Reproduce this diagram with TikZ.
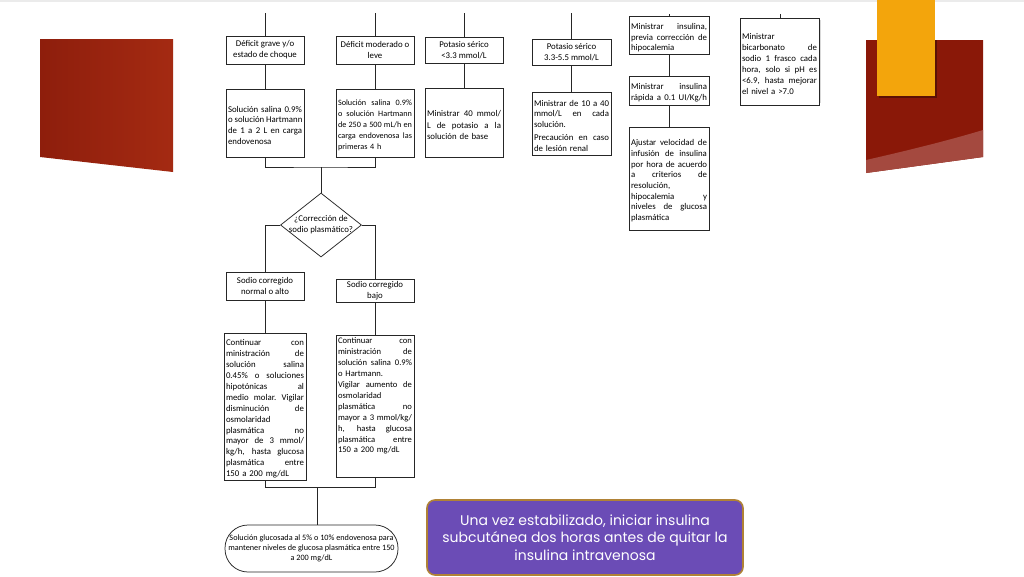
\documentclass[tikz,border=0pt]{standalone}
\usepackage{fontspec}
\setmainfont{Carlito}
\newfontfamily\gothic{Poppins}
\usetikzlibrary{shapes.geometric}
\definecolor{redA}{HTML}{8E1E0C}
\definecolor{redB}{HTML}{A42A12}
\definecolor{redC}{HTML}{8A1808}
\definecolor{redD}{HTML}{A4493F}
\definecolor{orangeA}{HTML}{F3A50C}
\definecolor{purpfill}{HTML}{6B4CB6}
\definecolor{purpedge}{HTML}{B08236}
\definecolor{lncol}{HTML}{262626}
\newdimen\tw
\tw=74pt
\newcommand\jline[1]{\par\noindent\hbox to\tw{\spaceskip=0.22em plus 1fil\xspaceskip=0.22em plus 1fil\relax #1}\par}
\newcommand\lline[1]{\par\noindent\hbox to\tw{#1\hfil}\par}
\tikzset{
  ln/.style={draw=lncol, line width=0.75pt},
  hbox/.style={draw=lncol, line width=0.75pt, rectangle, inner sep=1pt, align=center,
    font=\fontsize{8.8}{11}\selectfont},
  tbox/.style={draw=lncol, line width=0.75pt, rectangle, inner xsep=2pt, inner ysep=2pt,
    font=\fontsize{8.8}{10.7}\selectfont, text width=#1,
    execute at begin node={\global\tw=#1\relax}},
  diam/.style={draw=lncol, line width=0.75pt, diamond, inner sep=0pt,
    minimum width=81pt, minimum height=64pt},
  ovalbox/.style={draw=lncol, line width=0.75pt, rectangle, rounded corners=23pt,
    minimum width=173pt, minimum height=47pt, align=center, inner sep=1pt,
    font=\fontsize{8.2}{10}\selectfont},
  notebox/.style={draw=purpedge, line width=1.6pt, fill=purpfill, rounded corners=8pt,
    minimum width=316pt, minimum height=75pt, text=white, align=center,
    font=\gothic\fontsize{14}{17.5}\selectfont}
}
\begin{document}
\begin{tikzpicture}[x=1pt,y=-1pt]
\useasboundingbox (0,0) rectangle (1024,576);
\fill[white] (0,0) rectangle (1024,576);
\fill[black!8] (0,0) rectangle (1024,2);
% decorative shapes
\shade[left color=redA, right color=redB] (40,39) -- (173,39) -- (173,172) -- (40,157) -- cycle;
\fill[redC] (866,40) -- (983,40) -- (983,157) -- (866,173) -- cycle;
\fill[redD] (866,160) .. controls (910,150) and (950,140) .. (983,130) -- (983,157) -- (866,173) -- cycle;
\fill[black!35!redC] (879,40) rectangle (937,98);
\fill[orangeA] (877,0) rectangle (935,96);
\draw[black!15, line width=0.6pt] (820.5,20) -- (820.5,103);

% top row headers
\node[hbox, minimum width=78pt, minimum height=28pt] (b1) at (265,50) {Déficit grave y/o\\estado de choque};
\node[hbox, minimum width=78pt, minimum height=28pt] (b2) at (375,50) {Déficit moderado o\\leve};
\node[hbox, minimum width=78pt, minimum height=26pt] (b3) at (464,50) {Potasio sérico\\<3.3 mmol/L};
\node[hbox, minimum width=79pt, minimum height=26pt] (b4) at (571.5,52) {Potasio sérico\\3.3-5.5 mmol/L};

% second row
\node[tbox=74pt, minimum width=78pt, minimum height=68pt] (b1b) at (265,123) {%
\jline{Solución salina 0.9\%}\jline{o solución Hartmann}\jline{de 1 a 2 L en carga}\lline{endovenosa}};
\node[tbox=74pt, minimum width=78pt, minimum height=68pt, font=\fontsize{8.2}{11}\selectfont] (b2b) at (375,123) {%
\jline{Solución salina 0.9\%}\jline{o solución Hartmann}\jline{de 250 a 500 mL/h en}\jline{carga endovenosa las}\lline{primeras 4 h}};
\node[tbox=74pt, minimum width=78pt, minimum height=69pt, font=\fontsize{8.8}{11.2}\selectfont] (b3b) at (464,122.5) {%
\jline{Ministrar 40 mmol/}\jline{L de potasio a la}\lline{solución de base}};
\node[tbox=75pt, minimum width=79pt, minimum height=63pt] (b4b) at (571.5,123.5) {%
\jline{Ministrar de 10 a 40}\jline{mmol/L en cada}\lline{solución.}\vspace{2.5pt}\jline{Precaución en caso}\lline{de lesión renal}};

% insulin column
\node[tbox=76pt, minimum width=80pt, minimum height=35pt] (b5) at (669,35.5) {%
\jline{Ministrar insulina,}\jline{previa corrección de}\lline{hipocalemia}};
\node[tbox=76pt, minimum width=80pt, minimum height=29pt] (b6) at (669,90.5) {%
\jline{Ministrar insulina}\jline{rápida a 0.1 UI/Kg/h}};
\node[tbox=76pt, minimum width=80pt, minimum height=103pt] (b7) at (669,178.5) {%
\jline{Ajustar velocidad de}\jline{infusión de insulina}\jline{por hora de acuerdo}\jline{a criterios de}\lline{resolución,}\jline{hipocalemia y}\jline{niveles de glucosa}\lline{plasmática}};
\node[tbox=75pt, minimum width=79pt, minimum height=87pt, font=\fontsize{8.8}{11}\selectfont] (b8) at (779.5,61.5) {%
\lline{Ministrar}\jline{bicarbonato de}\jline{sodio 1 frasco cada}\jline{hora, solo si pH es}\jline{<6.9, hasta mejorar}\lline{el nivel a >7.0}};

% diamond
\node[diam] (dia) at (321,225) {};
\node[font=\fontsize{8.8}{11}\selectfont, align=center, inner sep=0pt] (diat) at (dia.center) {¿Corrección de\\sodio plasmático?};

% sodium boxes
\node[hbox, minimum width=78pt, minimum height=28pt] (b9) at (265,286) {Sodio corregido\\normal o alto};
\node[hbox, minimum width=78pt, minimum height=23pt, font=\fontsize{8.8}{10.4}\selectfont] (b10) at (375,290.5) {Sodio corregido\\bajo};

\node[tbox=78pt, minimum width=82pt, minimum height=143pt, font=\fontsize{8.8}{10.9}\selectfont] (b11) at (265,406.5) {%
\jline{Continuar con}\jline{ministración de}\jline{solución salina}\jline{0.45\% o soluciones}\jline{hipotónicas al}\jline{medio molar. Vigilar}\jline{disminución de}\lline{osmolaridad}\jline{plasmática no}\jline{mayor de 3 mmol/}\jline{kg/h, hasta glucosa}\jline{plasmática entre}\lline{150 a 200 mg/dL}};
\node[tbox=74pt, minimum width=78pt, minimum height=142pt, inner ysep=3pt, font=\fontsize{8.6}{10.9}\selectfont] (b12) at (375,406) {\vbox to 136pt{%
\jline{Continuar con}\jline{ministración de}\jline{solución salina 0.9\%}\lline{o Hartmann.}\jline{Vigilar aumento de}\lline{osmolaridad}\jline{plasmática no}\jline{mayor a 3 mmol/kg/}\jline{h, hasta glucosa}\jline{plasmática entre}\lline{150 a 200 mg/dL}\vfil}};

\node[ovalbox] (final) at (311.5,548.5) {Solución glucosada al 5\% o 10\% endovenosa para\\mantener niveles de glucosa plasmática entre 150\\a 200 mg/dL};

\node[notebox] (note) at (585,537.5) {Una vez estabilizado, iniciar insulina\\subcutánea dos horas antes de quitar la\\insulina intravenosa};

% stubs
\coordinate (t1) at (265,13);
\coordinate (t2) at (375,13);
\coordinate (t3) at (464,13);
\coordinate (t4) at (571,13);
\coordinate (t5) at (669,14);
\coordinate (t6) at (780,14);
\draw[ln] (t1) -- (t1 |- b1.north);
\draw[ln] (t2) -- (t2 |- b2.north);
\draw[ln] (t3) -- (t3 |- b3.north);
\draw[ln] (t4) -- (t4 |- b4.north);
\draw[ln] (t5) -- (t5 |- b5.north);
\draw[ln] (t6) -- (t6 |- b8.north);

% connectors
\draw[ln] (b1) -- (b1b);
\draw[ln] (b2) -- (b2b);
\draw[ln] (b3) -- (b3b);
\draw[ln] (t4 |- b4.south) -- (t4 |- b4b.north);
\draw[ln] (b5) -- (b6);
\draw[ln] (b6) -- (b7);
\coordinate (j1) at (321,167);
\draw[ln] (b1b.south) |- (j1) -| (b2b.south);
\draw[ln] (j1) -- (dia.north);
\draw[ln] (dia.west) -| (b9.north);
\draw[ln] (dia.east) -| (b10.north);
\draw[ln] (b9) -- (b11);
\draw[ln] (b10) -- (b12);
\coordinate (j2) at (317,487);
\draw[ln] (b11.south) |- (j2) -| (b12.south);
\draw[ln] (j2) -- (j2 |- final.north);
\end{tikzpicture}
\end{document}
